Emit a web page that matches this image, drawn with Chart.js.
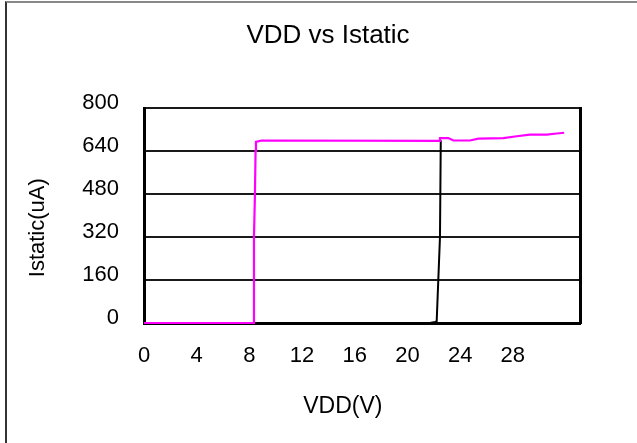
<!DOCTYPE html>
<html>
<head>
<meta charset="utf-8">
<script src="https://cdn.jsdelivr.net/npm/chart.js@4"></script>
<style>
  html, body { margin: 0; padding: 0; background: #fff; }
  #wrap { position: relative; width: 637px; height: 443px; }
  #frame { position: absolute; left: 5px; top: 1px; right: 0; bottom: 0; border-left: 2px solid #333; border-top: 2px solid #888; pointer-events: none; }
</style>
</head>
<body>
<div id="wrap">
  <canvas id="vddChart" width="637" height="443"></canvas>
  <div id="frame"></div>
</div>
<script>
// magenta trace (VDD in V, Istatic in uA)
const magentaVdd = [0, 8.3, 8.35, 8.42, 8.47, 8.5, 8.93, 22.4, 22.47, 23.1, 23.49, 24.75, 25.38, 27.28, 28.3, 29.3, 30.58, 31.34, 31.9];
const magentaI = [0, 0, 325, 473, 640, 674, 679, 678, 688, 688, 679, 679, 686, 688, 695, 701, 701, 705, 708];

// black trace
const blackVdd = [0, 21.7, 22.1, 22.22, 22.47, 22.53];
const blackI = [0, 0, 4, 6, 320, 680];

const xTicksShown = [0, 4, 8, 12, 16, 20, 24, 28];

const FONT = "'Liberation Sans', Arial, sans-serif";
const pad = n => "\u00a0".repeat(n);

const toPoints = (xs, ys) => xs.map((x, i) => ({ x: x, y: ys[i] }));

new Chart(document.getElementById("vddChart"), {
    type: "line",
    data: {
        datasets: [
            {
                label: "magenta",
                data: toPoints(magentaVdd, magentaI),
                borderColor: "#ff00ff",
                borderWidth: 2.2,
                pointRadius: 0,
                tension: 0,
                clip: false
            },
            {
                label: "black",
                data: toPoints(blackVdd, blackI),
                borderColor: "#000",
                borderWidth: 2,
                pointRadius: 0,
                tension: 0,
                clip: false
            }
        ]
    },
    options: {
        responsive: false,
        animation: false,
        layout: { padding: { left: 19, right: 0, top: 0, bottom: 0 } },
        plugins: {
            legend: { display: false },
            tooltip: { enabled: false },
            title: {
                display: true,
                text: "VDD vs Istatic",
                color: "#000",
                font: { family: FONT, size: 26, weight: "normal" },
                padding: { top: 20, bottom: 56.8 }
            }
        },
        scales: {
            x: {
                type: "linear",
                min: 0,
                max: 33.1,
                border: { color: "#000", width: 3 },
                grid: { display: false, drawTicks: false },
                ticks: {
                    stepSize: 4,
                    padding: 20,
                    color: "#000",
                    maxRotation: 0,
                    autoSkip: false,
                    font: { family: FONT, size: 22 },
                    callback: v => xTicksShown.includes(v) ? v : ""
                },
                title: {
                    display: true,
                    text: "VDD(V)" + pad(6),
                    color: "#000",
                    font: { family: FONT, size: 23 },
                    padding: { top: 0, bottom: 23 }
                },
                afterFit: s => { s.height = 120; }
            },
            y: {
                min: 0,
                max: 800,
                border: { color: "#000", width: 3 },
                grid: { color: "#1a1a1a", lineWidth: 2, drawTicks: false },
                ticks: {
                    stepSize: 160,
                    padding: 25,
                    labelOffset: -5,
                    color: "#000",
                    font: { family: FONT, size: 22 }
                },
                title: {
                    display: true,
                    text: "Istatic(uA)" + pad(4),
                    color: "#000",
                    font: { family: FONT, size: 22 },
                    padding: { top: 6, bottom: 0 }
                },
                afterFit: s => { s.width = 125; }
            },
            // empty right axis: closes the plot box and leaves the right margin
            yRight: {
                position: "right",
                min: 0,
                max: 800,
                border: { color: "#000", width: 3 },
                grid: { drawOnChartArea: false, drawTicks: false },
                ticks: { display: false },
                afterFit: s => { s.width = 57; }
            }
        }
    }
});
</script>
</body>
</html>
